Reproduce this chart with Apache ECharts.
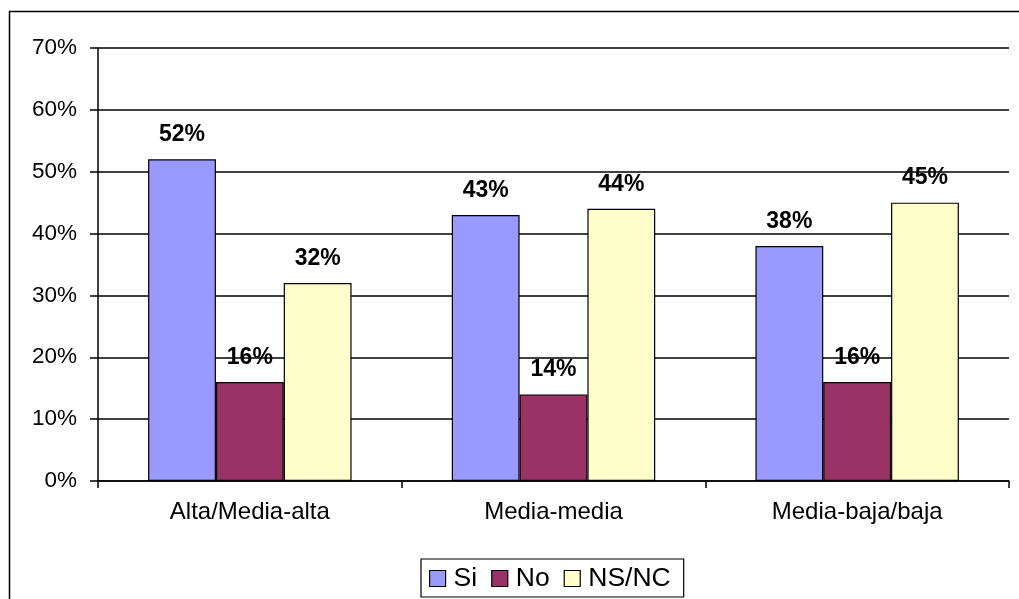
<!DOCTYPE html>
<html><head><meta charset="utf-8">
<script src="https://cdn.jsdelivr.net/npm/echarts@6/dist/echarts.min.js"></script>
<style>html,body{margin:0;padding:0;background:#fff}#c{width:1019px;height:599px}</style>
</head><body><div id="c"></div>
<script>
const categories = ['Alta/Media-alta', 'Media-media', 'Media-baja/baja'];
const seriesNames = ['Si', 'No', 'NS/NC'];
const si = [52, 43, 38];
const no = [16, 14, 16];
const nsnc = [32, 44, 45];
const colors = ['#9999FF', '#993366', '#FFFFCC'];
const values = [si, no, nsnc];

const chart = echarts.init(document.getElementById('c'), null, {renderer: 'canvas'});
const font = 'Liberation Sans, Arial, sans-serif';
chart.setOption({
  animation: false,
  backgroundColor: '#fff',
  graphic: [{
    type: 'rect', left: 7, top: 9, z: 100, silent: true,
    shape: {x: 0, y: 0, width: 1040, height: 620},
    style: {fill: 'none', stroke: '#000', lineWidth: 1.5}
  }],
  grid: {left: 98, right: 10, top: 48, bottom: 118, containLabel: false},
  legend: {
    bottom: 2, left: 421,
    data: seriesNames,
    icon: 'rect', itemWidth: 16, itemHeight: 16, itemGap: 14,
    borderColor: '#000', borderWidth: 1.2, padding: [6, 13, 5, 8],
    textStyle: {fontFamily: font, fontSize: 26.5, color: '#000', padding: [0, 0, 0, 3]},
    itemStyle: {borderColor: '#000', borderWidth: 1.2}
  },
  xAxis: {
    type: 'category', data: categories,
    axisLine: {lineStyle: {color: '#000', width: 1.5}},
    axisTick: {show: true, length: 7, lineStyle: {color: '#000', width: 1.5}},
    axisLabel: {fontFamily: font, fontSize: 24, color: '#000', margin: 19}
  },
  yAxis: {
    type: 'value', min: 0, max: 70, interval: 10,
    axisLine: {show: true, lineStyle: {color: '#000', width: 1.5}},
    axisTick: {show: true, length: 8, lineStyle: {color: '#000', width: 1.5}},
    axisLabel: {fontFamily: font, fontSize: 22.5, color: '#000', margin: 21, formatter: '{value}%'},
    splitLine: {show: true, lineStyle: {color: '#000', width: 1.5}}
  },
  series: seriesNames.map((n, i) => ({
    name: n, type: 'bar', data: values[i],
    barGap: '0%', barCategoryGap: '33%',
    itemStyle: {color: colors[i], borderColor: '#000', borderWidth: 1.2},
    label: {show: true, position: 'top', distance: 13, formatter: '{c}%',
      fontFamily: font, fontSize: 23, fontWeight: 'bold', color: '#000'},
    z: 3
  }))
});
</script></body></html>
